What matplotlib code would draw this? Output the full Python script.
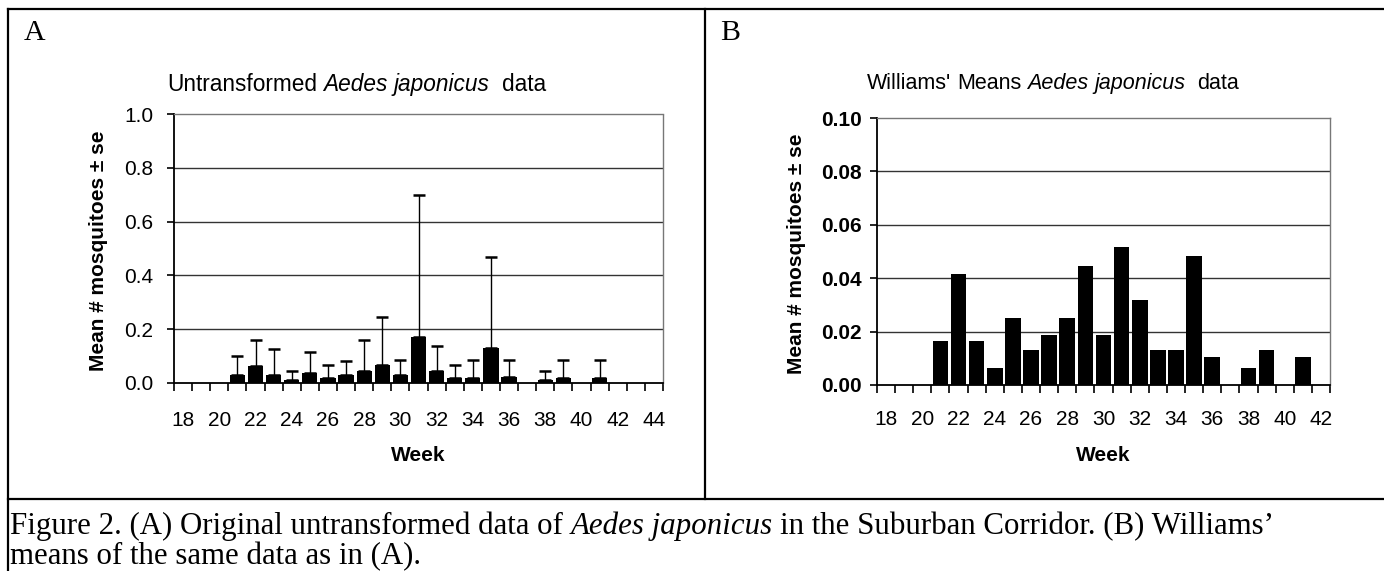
import numpy as np
import matplotlib
matplotlib.use("Agg")
import matplotlib.pyplot as plt
from matplotlib.lines import Line2D

# panel A: untransformed means and standard errors, weeks 18-44
weeks_a = list(range(18, 45))
mean_a = [0, 0, 0, 0.030, 0.063, 0.030, 0.012, 0.036, 0.019, 0.030, 0.046, 0.068, 0.028,
          0.171, 0.046, 0.019, 0.020, 0.130, 0.021, 0, 0.012, 0.019, 0, 0.019, 0, 0, 0]
se_a = [0, 0, 0, 0.070, 0.097, 0.096, 0.033, 0.079, 0.049, 0.053, 0.114, 0.176, 0.056,
        0.529, 0.093, 0.049, 0.065, 0.340, 0.063, 0, 0.033, 0.065, 0, 0.065, 0, 0, 0]

# panel B: Williams' means, weeks 18-42
weeks_b = list(range(18, 43))
mean_b = [0, 0, 0, 0.0166, 0.0416, 0.0166, 0.0063, 0.0252, 0.0130, 0.0188, 0.0252, 0.0444,
          0.0188, 0.0515, 0.0319, 0.0130, 0.0130, 0.0485, 0.0104, 0, 0.0064, 0.0130, 0,
          0.0104, 0]

W, H = 1384, 571
fig = plt.figure(figsize=(W / 100, H / 100), dpi=100)
SANS = "Liberation Sans"
SERIF = "Liberation Serif"


def fx(x):
    return x / W


def fy(y):
    return 1 - y / H


def rich(x, y, parts, size, family):
    # draws text pieces one after another starting at pixel x, baseline y
    r = fig.canvas.get_renderer()
    cx = x
    for s, style in parts:
        if s == " ":
            a = fig.text(0, 0, "a a", family=family, size=size, style=style)
            b = fig.text(0, 0, "aa", family=family, size=size, style=style)
            cx += a.get_window_extent(r).width - b.get_window_extent(r).width
            a.remove()
            b.remove()
            continue
        t = fig.text(fx(cx), fy(y), s, family=family, size=size, style=style,
                     va="baseline", ha="left")
        cx += t.get_window_extent(r).width
    return cx


def style_axes(ax, n, ymax, ystep, fmt, ybold):
    ax.set_xlim(-0.5, n - 0.5)
    ax.set_ylim(0, ymax)
    yt = np.arange(0, ymax + ystep / 2, ystep)
    ax.set_yticks(yt)
    ax.set_yticklabels([fmt % v for v in yt], family=SANS, size=15,
                       weight="bold" if ybold else "normal")
    for v in yt[1:-1]:
        ax.axhline(v, color="#333333", lw=1.0, zorder=0.5)
    ax.set_xticks(np.arange(-0.5, n, 1.0))
    ax.set_xticklabels([])
    ax.tick_params(axis="x", which="major", direction="out", length=6, width=1.2)
    ax.tick_params(axis="y", direction="out", length=5, width=1.2)
    for side in ("top", "right"):
        ax.spines[side].set_linestyle((0, (1, 1)))
        ax.spines[side].set_color("#777777")
        ax.spines[side].set_linewidth(1.0)
    for side in ("left", "bottom"):
        ax.spines[side].set_color("black")
        ax.spines[side].set_linewidth(1.3)


# ---- panel A
ax1 = fig.add_axes([fx(174), fy(383), (663 - 174) / W, (383 - 114) / H])
xa = np.arange(len(weeks_a))
ax1.bar(xa, mean_a, width=0.84, color="black", zorder=2)
m = np.array(se_a) > 0
ax1.errorbar(xa[m], np.array(mean_a)[m], yerr=[np.zeros(m.sum()), np.array(se_a)[m]],
             fmt="none", ecolor="black", elinewidth=1.0, capsize=4.5, capthick=1.8, zorder=3)
style_axes(ax1, len(weeks_a), 1.0, 0.2, "%.1f", False)
ax1.tick_params(axis="y", pad=10)
ax1.set_xticks(xa[::2], [str(w) for w in weeks_a[::2]], minor=True)
ax1.tick_params(axis="x", which="minor", length=0, pad=20, labelsize=15)
for lab in ax1.get_xticklabels(minor=True):
    lab.set_family(SANS)
ax1.set_xlabel("Week", family=SANS, size=15, weight="bold")
ax1.xaxis.set_label_coords(0.5, -0.235)
ax1.set_ylabel("Mean # mosquitoes \u00b1 se", family=SANS, size=15, weight="bold")
ax1.yaxis.set_label_coords(-0.135, 0.49)

# ---- panel B
ax2 = fig.add_axes([fx(877), fy(385), (1330 - 877) / W, (385 - 118) / H])
xb = np.arange(len(weeks_b))
ax2.bar(xb, mean_b, width=0.86, color="black", zorder=2)
style_axes(ax2, len(weeks_b), 0.10, 0.02, "%.2f", True)
ax2.tick_params(axis="y", pad=6)
ax2.set_xticks(xb[::2], [str(w) for w in weeks_b[::2]], minor=True)
ax2.tick_params(axis="x", which="minor", length=0, pad=18, labelsize=15)
for lab in ax2.get_xticklabels(minor=True):
    lab.set_family(SANS)
ax2.set_xlabel("Week", family=SANS, size=15, weight="bold")
ax2.xaxis.set_label_coords(0.5, -0.23)
ax2.set_ylabel("Mean # mosquitoes \u00b1 se", family=SANS, size=15, weight="bold")
ax2.yaxis.set_label_coords(-0.157, 0.49)

# ---- titles
rich(167, 91, [("Untransformed", "normal"), (" ", "normal"), ("Aedes", "italic"),
               (" ", "normal"), ("japonicus", "italic"), (" ", "normal"), (" ", "normal"),
               ("data", "normal")], 16.3, SANS)
rich(867, 89, [("Williams'", "normal"), (" ", "normal"), ("Means", "normal"),
               (" ", "normal"), ("Aedes", "italic"), (" ", "normal"),
               ("japonicus", "italic"), (" ", "normal"), (" ", "normal"),
               ("data", "normal")], 15.5, SANS)

# ---- panel letters
fig.text(fx(24), fy(40), "A", family=SERIF, size=21.5, va="baseline")
fig.text(fx(720), fy(40), "B", family=SERIF, size=21.5, va="baseline")

# ---- caption
cap = 22.2
rich(10, 534, [("Figure 2. (A) Original untransformed data of", "normal"), (" ", "normal"),
               ("Aedes japonicus", "italic"), (" ", "normal"),
               ("in the Suburban Corridor. (B) Williams\u2019", "normal")], cap, SERIF)
rich(10, 564, [("means of the same data as in (A).", "normal")], cap, SERIF)

# ---- frame lines
lw = 1.6
fig.add_artist(Line2D([fx(8), 1], [fy(9), fy(9)], color="black", lw=lw))
fig.add_artist(Line2D([fx(8), fx(8)], [fy(9), 0], color="black", lw=lw))
fig.add_artist(Line2D([fx(705), fx(705)], [fy(9), fy(499)], color="black", lw=lw))
fig.add_artist(Line2D([fx(8), 1], [fy(499), fy(499)], color="black", lw=lw))

fig.savefig("out.png", dpi=100)
